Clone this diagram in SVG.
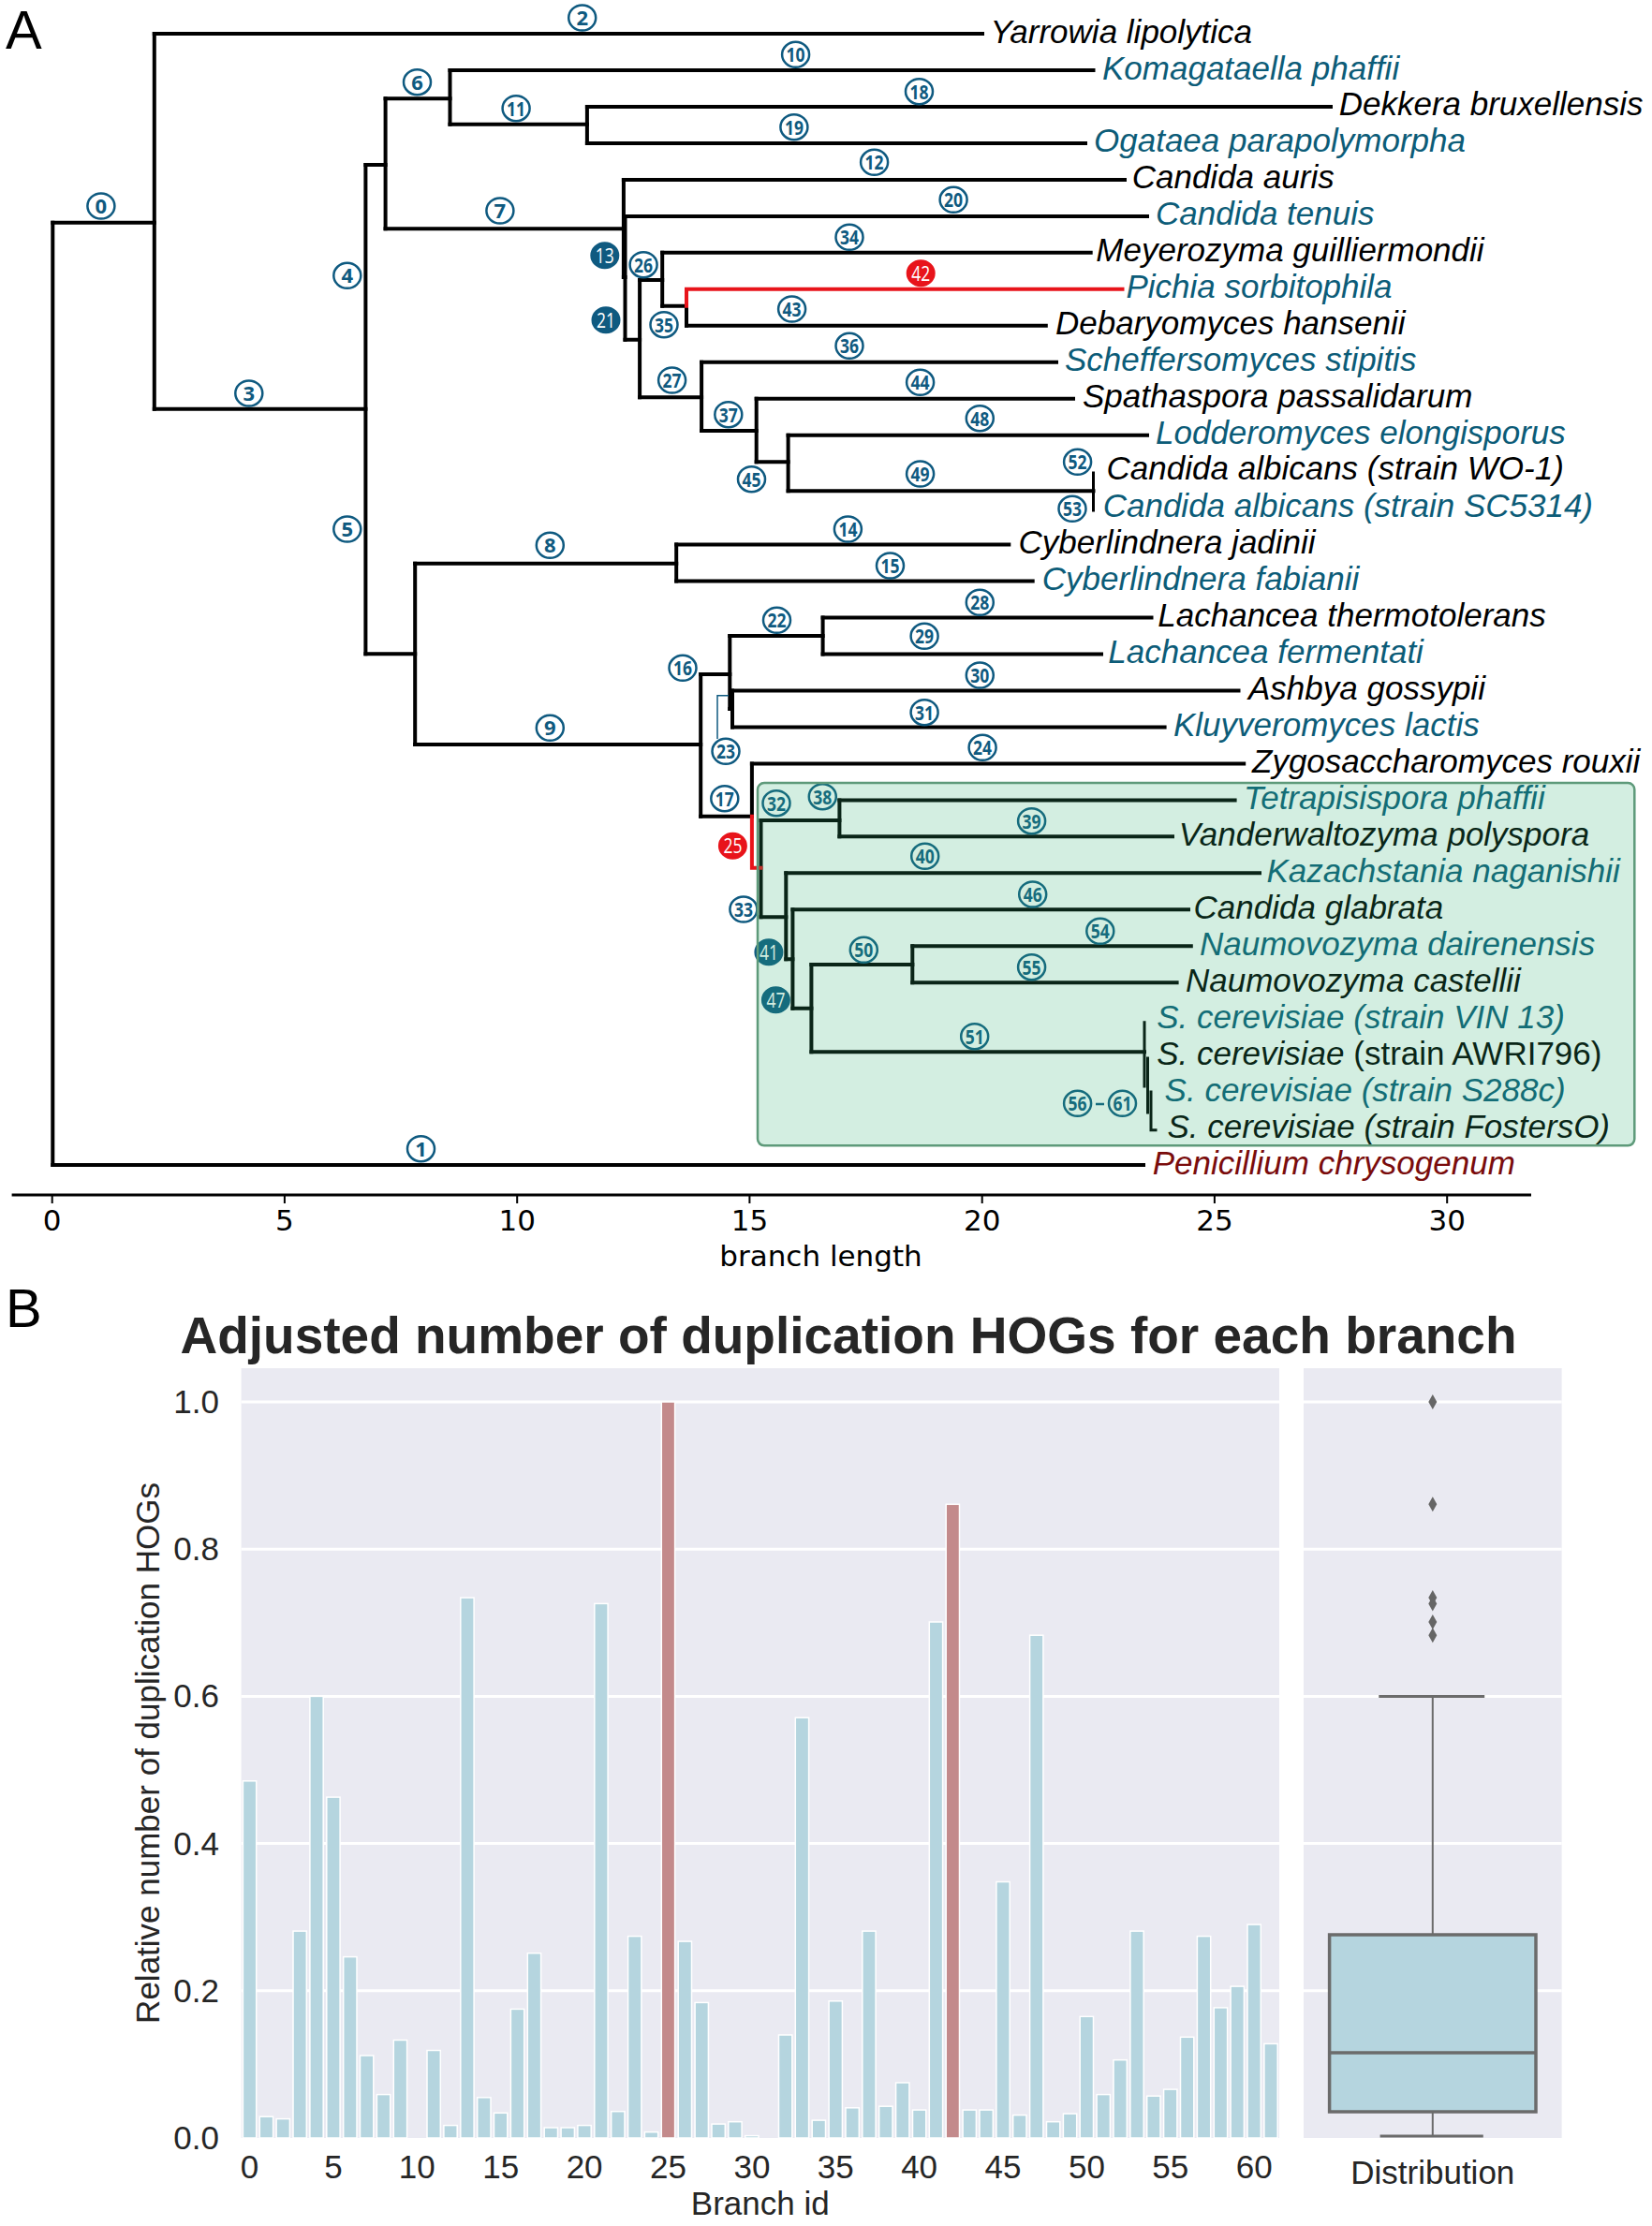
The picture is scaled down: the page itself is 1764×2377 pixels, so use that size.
<svg xmlns="http://www.w3.org/2000/svg" width="1764" height="2377" viewBox="0 0 1764 2377">
<style>
.br{fill:none;stroke:#000;stroke-width:4;stroke-linecap:square}
.red{fill:none;stroke:#e8141b;stroke-width:4;stroke-linecap:square}
.sp{font-family:"Liberation Sans",Arial,sans-serif;font-style:italic;font-size:35px}
.k{fill:#000}
.b{fill:#0c5c78}
.pen{fill:#7a0c0c}
.bub ellipse{fill:#fff;stroke:#0f5a80;stroke-width:2.5}
.bub text,.fb text,.rb text{font-family:"Open Sans","Liberation Sans",sans-serif;font-weight:700;font-size:22px;text-anchor:middle}
.bub text{fill:#0f5a80}
.fb ellipse{fill:#0f5a80;stroke:#0f5a80;stroke-width:2}
.fb text,.rb text{fill:#fff;font-weight:400}
.rb ellipse{fill:#e8141b;stroke:#e8141b;stroke-width:2}
.ax{font-family:"DejaVu Sans",sans-serif;font-size:31px;fill:#000}
.pl{font-family:"Liberation Sans",Arial,sans-serif;font-size:58px;fill:#000}
.bg{fill:#eaeaf2}
.grid{stroke:#fff;stroke-width:3}
.bar{fill:#b5d5df;stroke:#fff;stroke-width:1.5}
.barr{fill:#c38a8b;stroke:#fff;stroke-width:1.5}
.tl{font-family:"Liberation Sans",Arial,sans-serif;font-size:35px;fill:#262626}
.bx{stroke:#6b6b6b;stroke-width:3;fill:none}
</style>

<text class="pl" x="6" y="52">A</text>
<text class="pl" x="6" y="1417">B</text>

<g id="connectors">
<path class="br" d="M56.3,237.7V1244.1 M164.8,36V436.7 M390.4,176V698.3 M411.6,105.3V244.3 M480.5,75V132.7 M626.9,113.9V152.9 M665.9,191.9V296 M667.5,230.9V362.7 M683.1,299V424.3 M707.2,269.8V326.7 M733,326.7V347.8 M749.1,386.7V460 M807.7,425.7V493.3 M841.6,464.7V524.3 M443.2,601.7V795 M722.2,581.6V620.6 M748.2,720V871.7 M779.3,679V757 M878.6,659.5V698.5 M782,737.5V776.4 M802.9,815.4V871.7 M812.5,876V979.3 M896.4,854.4V893.3 M839.3,932.3V1024.3 M846.4,971.3V1076.7 M866.4,1030V1123.3 M974.3,1010.3V1049.2"/>
<path class="br" d="M56.3,237.7H164.8 M56.3,1244.1H1221 M164.8,36H1049 M164.8,436.7H390.4 M390.4,176H411.6 M390.4,698.3H443.2 M411.6,105.3H480.5 M411.6,244.3H665.9 M480.5,75H1167.5 M480.5,132.7H626.9 M626.9,113.9H1421 M626.9,152.9H1159 M665.9,191.9H1201 M665.9,296H667.5 M667.5,230.9H1225 M667.5,362.7H683.1 M683.1,299H707.2 M683.1,424.3H749.1 M707.2,269.8H1164.7 M707.2,326.7H733 M733,347.8H1116.8 M749.1,386.7H1128 M749.1,460H807.7 M807.7,425.7H1146 M807.7,493.3H841.6 M841.6,464.7H1225 M841.6,524.3H1167.5 M443.2,601.7H722.2 M443.2,795H748.2 M722.2,581.6H1077.3 M722.2,620.6H1102.7 M748.2,720H779.3 M748.2,871.7H802.9 M779.3,679H878.6 M779.3,757H782 M878.6,659.5H1229.5 M878.6,698.5H1176 M782,737.5H1322.5 M782,776.4H1243.6 M802.9,815.4H1328.2 M812.5,876H896.4 M812.5,979.3H839.3 M896.4,854.4H1318.6 M896.4,893.3H1252 M839.3,932.3H1345 M839.3,1024.3H846.4 M846.4,971.3H1269 M846.4,1076.7H866.4 M866.4,1030H974.3 M866.4,1123.3H1222 M974.3,1010.3H1271.8 M974.3,1049.2H1256.6"/>
<path class="br" style="stroke-width:3" d="M1167.5,505V545 M1222,1091.7V1160 M1225.5,1130V1188 M1229,1166V1206.7H1234"/>
<path class="red" d="M733,326.7V308.8H1198.5 M802.9,871.7V926.7H812.5"/>
<path fill="none" stroke="#0f5a80" stroke-width="1.5" d="M766,789V742.7H778"/>
</g>

<g id="leaves">
<text id="t-yarrowia" class="sp k" x="1057.6" y="45.5">Yarrowia lipolytica</text>
<text id="t-komagataella" class="sp b" x="1177" y="84.5">Komagataella phaffii</text>
<text id="t-dekkera" class="sp k" x="1429.7" y="123.4">Dekkera bruxellensis</text>
<text id="t-ogataea" class="sp b" x="1168" y="162.4">Ogataea parapolymorpha</text>
<text id="t-cauris" class="sp k" x="1208.7" y="201.4">Candida auris</text>
<text id="t-ctenuis" class="sp b" x="1234" y="240.4">Candida tenuis</text>
<text id="t-meyerozyma" class="sp k" x="1170.3" y="279.3">Meyerozyma guilliermondii</text>
<text id="t-pichia" class="sp b" x="1202.5" y="318.3">Pichia sorbitophila</text>
<text id="t-debaryomyces" class="sp k" x="1127" y="357.3">Debaryomyces hansenii</text>
<text id="t-scheffersomyces" class="sp b" x="1137" y="396.2">Scheffersomyces stipitis</text>
<text id="t-spathaspora" class="sp k" x="1156" y="435.2">Spathaspora passalidarum</text>
<text id="t-lodderomyces" class="sp b" x="1234" y="474.2">Lodderomyces elongisporus</text>
<text id="t-wo1" class="sp k" x="1181.6" y="512">Candida albicans (strain WO-1)</text>
<text id="t-sc5314" class="sp b" x="1177.7" y="551.5">Candida albicans (strain SC5314)</text>
<text id="t-jadinii" class="sp k" x="1087.5" y="591.1">Cyberlindnera jadinii</text>
<text id="t-fabianii" class="sp b" x="1112.8" y="630.1">Cyberlindnera fabianii</text>
<text id="t-lthermo" class="sp k" x="1236.3" y="669">Lachancea thermotolerans</text>
<text id="t-lferm" class="sp b" x="1183.3" y="708">Lachancea fermentati</text>
<text id="t-ashbya" class="sp k" x="1333" y="747">Ashbya gossypii</text>
<text id="t-kluyveromyces" class="sp b" x="1253" y="785.9">Kluyveromyces lactis</text>
<text id="t-zygo" class="sp k" x="1337" y="824.9">Zygosaccharomyces rouxii</text>
<text id="t-tetrap" class="sp b" x="1328" y="863.9">Tetrapisispora phaffii</text>
<text id="t-vanderw" class="sp k" x="1258.8" y="902.8">Vanderwaltozyma polyspora</text>
<text id="t-kazach" class="sp b" x="1352.4" y="941.8">Kazachstania naganishii</text>
<text id="t-cglab" class="sp k" x="1274.6" y="980.8">Candida glabrata</text>
<text id="t-ndair" class="sp b" x="1281" y="1019.8">Naumovozyma dairenensis</text>
<text id="t-ncast" class="sp k" x="1266" y="1058.7">Naumovozyma castellii</text>
<text id="t-vin13" class="sp b" x="1235.2" y="1097.7">S. cerevisiae (strain VIN 13)</text>
<text id="t-awri" class="sp k" x="1235.2" y="1136.7">S. cerevisiae<tspan font-style="normal"> (strain AWRI796)</tspan></text>
<text id="t-s288c" class="sp b" x="1243.6" y="1175.6">S. cerevisiae (strain S288c)</text>
<text id="t-fosters" class="sp k" x="1246.4" y="1214.6">S. cerevisiae (strain FostersO)</text>
<text id="t-penicillium" class="sp pen" x="1230.7" y="1253.6">Penicillium chrysogenum</text>
</g>

<g id="branch-labels">
<g class="bub" transform="translate(107.9,220)"><ellipse rx="14.5" ry="13.5"/><text y="8">0</text></g>
<g class="bub" transform="translate(449.5,1226.7)"><ellipse rx="14.5" ry="13.5"/><text y="8">1</text></g>
<g class="bub" transform="translate(621.7,19)"><ellipse rx="14.5" ry="13.5"/><text y="8">2</text></g>
<g class="bub" transform="translate(265.8,420)"><ellipse rx="14.5" ry="13.5"/><text y="8">3</text></g>
<g class="bub" transform="translate(370.8,294.3)"><ellipse rx="14.5" ry="13.5"/><text y="8">4</text></g>
<g class="bub" transform="translate(370.8,565)"><ellipse rx="14.5" ry="13.5"/><text y="8">5</text></g>
<g class="bub" transform="translate(445.5,87.7)"><ellipse rx="14.5" ry="13.5"/><text y="8">6</text></g>
<g class="bub" transform="translate(533.9,225)"><ellipse rx="14.5" ry="13.5"/><text y="8">7</text></g>
<g class="bub" transform="translate(587.3,582.3)"><ellipse rx="14.5" ry="13.5"/><text y="8">8</text></g>
<g class="bub" transform="translate(587.3,777.3)"><ellipse rx="14.5" ry="13.5"/><text y="8">9</text></g>
<g class="bub" transform="translate(849.6,58.3)"><ellipse rx="14.5" ry="13.5"/><text y="8" textLength="20" lengthAdjust="spacingAndGlyphs">10</text></g>
<g class="bub" transform="translate(551.1,115.7)"><ellipse rx="14.5" ry="13.5"/><text y="8" textLength="20" lengthAdjust="spacingAndGlyphs">11</text></g>
<g class="bub" transform="translate(933.6,173.3)"><ellipse rx="14.5" ry="13.5"/><text y="8" textLength="20" lengthAdjust="spacingAndGlyphs">12</text></g>
<g class="fb" transform="translate(645.8,272.7)"><ellipse rx="14.5" ry="13.5"/><text y="8" textLength="20" lengthAdjust="spacingAndGlyphs">13</text></g>
<g class="bub" transform="translate(905.4,565)"><ellipse rx="14.5" ry="13.5"/><text y="8" textLength="20" lengthAdjust="spacingAndGlyphs">14</text></g>
<g class="bub" transform="translate(950.5,604)"><ellipse rx="14.5" ry="13.5"/><text y="8" textLength="20" lengthAdjust="spacingAndGlyphs">15</text></g>
<g class="bub" transform="translate(729,713.3)"><ellipse rx="14.5" ry="13.5"/><text y="8" textLength="20" lengthAdjust="spacingAndGlyphs">16</text></g>
<g class="bub" transform="translate(773.8,852.7)"><ellipse rx="14.5" ry="13.5"/><text y="8" textLength="20" lengthAdjust="spacingAndGlyphs">17</text></g>
<g class="bub" transform="translate(981.5,97.7)"><ellipse rx="14.5" ry="13.5"/><text y="8" textLength="20" lengthAdjust="spacingAndGlyphs">18</text></g>
<g class="bub" transform="translate(847.9,135.7)"><ellipse rx="14.5" ry="13.5"/><text y="8" textLength="20" lengthAdjust="spacingAndGlyphs">19</text></g>
<g class="bub" transform="translate(1018.1,213.3)"><ellipse rx="14.5" ry="13.5"/><text y="8" textLength="20" lengthAdjust="spacingAndGlyphs">20</text></g>
<g class="fb" transform="translate(647,341.7)"><ellipse rx="14.5" ry="13.5"/><text y="8" textLength="20" lengthAdjust="spacingAndGlyphs">21</text></g>
<g class="bub" transform="translate(829.5,662.3)"><ellipse rx="14.5" ry="13.5"/><text y="8" textLength="20" lengthAdjust="spacingAndGlyphs">22</text></g>
<g class="bub" transform="translate(775,802.3)"><ellipse rx="14.5" ry="13.5"/><text y="8" textLength="20" lengthAdjust="spacingAndGlyphs">23</text></g>
<g class="bub" transform="translate(1049.1,798.3)"><ellipse rx="14.5" ry="13.5"/><text y="8" textLength="20" lengthAdjust="spacingAndGlyphs">24</text></g>
<g class="rb" transform="translate(782.4,903.3)"><ellipse rx="14.5" ry="13.5"/><text y="8" textLength="20" lengthAdjust="spacingAndGlyphs">25</text></g>
<g class="bub" transform="translate(687.1,282.7)"><ellipse rx="14.5" ry="13.5"/><text y="8" textLength="20" lengthAdjust="spacingAndGlyphs">26</text></g>
<g class="bub" transform="translate(717.6,406)"><ellipse rx="14.5" ry="13.5"/><text y="8" textLength="20" lengthAdjust="spacingAndGlyphs">27</text></g>
<g class="bub" transform="translate(1046.3,643.3)"><ellipse rx="14.5" ry="13.5"/><text y="8" textLength="20" lengthAdjust="spacingAndGlyphs">28</text></g>
<g class="bub" transform="translate(987.1,679.3)"><ellipse rx="14.5" ry="13.5"/><text y="8" textLength="20" lengthAdjust="spacingAndGlyphs">29</text></g>
<g class="bub" transform="translate(1046.3,721)"><ellipse rx="14.5" ry="13.5"/><text y="8" textLength="20" lengthAdjust="spacingAndGlyphs">30</text></g>
<g class="bub" transform="translate(987.1,760.7)"><ellipse rx="14.5" ry="13.5"/><text y="8" textLength="20" lengthAdjust="spacingAndGlyphs">31</text></g>
<g class="bub" transform="translate(829,857.7)"><ellipse rx="14.5" ry="13.5"/><text y="8" textLength="20" lengthAdjust="spacingAndGlyphs">32</text></g>
<g class="bub" transform="translate(793.9,971)"><ellipse rx="14.5" ry="13.5"/><text y="8" textLength="20" lengthAdjust="spacingAndGlyphs">33</text></g>
<g class="bub" transform="translate(907,253.3)"><ellipse rx="14.5" ry="13.5"/><text y="8" textLength="20" lengthAdjust="spacingAndGlyphs">34</text></g>
<g class="bub" transform="translate(709,346.7)"><ellipse rx="14.5" ry="13.5"/><text y="8" textLength="20" lengthAdjust="spacingAndGlyphs">35</text></g>
<g class="bub" transform="translate(907,369.3)"><ellipse rx="14.5" ry="13.5"/><text y="8" textLength="20" lengthAdjust="spacingAndGlyphs">36</text></g>
<g class="bub" transform="translate(777.8,442.7)"><ellipse rx="14.5" ry="13.5"/><text y="8" textLength="20" lengthAdjust="spacingAndGlyphs">37</text></g>
<g class="bub" transform="translate(878.3,850.7)"><ellipse rx="14.5" ry="13.5"/><text y="8" textLength="20" lengthAdjust="spacingAndGlyphs">38</text></g>
<g class="bub" transform="translate(1101.6,876.7)"><ellipse rx="14.5" ry="13.5"/><text y="8" textLength="20" lengthAdjust="spacingAndGlyphs">39</text></g>
<g class="bub" transform="translate(987.7,914.3)"><ellipse rx="14.5" ry="13.5"/><text y="8" textLength="20" lengthAdjust="spacingAndGlyphs">40</text></g>
<g class="fb" transform="translate(820.9,1016.7)"><ellipse rx="14.5" ry="13.5"/><text y="8" textLength="20" lengthAdjust="spacingAndGlyphs">41</text></g>
<g class="rb" transform="translate(983.2,291.7)"><ellipse rx="14.5" ry="13.5"/><text y="8" textLength="20" lengthAdjust="spacingAndGlyphs">42</text></g>
<g class="bub" transform="translate(845.6,330)"><ellipse rx="14.5" ry="13.5"/><text y="8" textLength="20" lengthAdjust="spacingAndGlyphs">43</text></g>
<g class="bub" transform="translate(982.6,408.3)"><ellipse rx="14.5" ry="13.5"/><text y="8" textLength="20" lengthAdjust="spacingAndGlyphs">44</text></g>
<g class="bub" transform="translate(802.5,511.7)"><ellipse rx="14.5" ry="13.5"/><text y="8" textLength="20" lengthAdjust="spacingAndGlyphs">45</text></g>
<g class="bub" transform="translate(1102.7,955)"><ellipse rx="14.5" ry="13.5"/><text y="8" textLength="20" lengthAdjust="spacingAndGlyphs">46</text></g>
<g class="fb" transform="translate(828.4,1067.7)"><ellipse rx="14.5" ry="13.5"/><text y="8" textLength="20" lengthAdjust="spacingAndGlyphs">47</text></g>
<g class="bub" transform="translate(1046.3,446.7)"><ellipse rx="14.5" ry="13.5"/><text y="8" textLength="20" lengthAdjust="spacingAndGlyphs">48</text></g>
<g class="bub" transform="translate(982.6,506)"><ellipse rx="14.5" ry="13.5"/><text y="8" textLength="20" lengthAdjust="spacingAndGlyphs">49</text></g>
<g class="bub" transform="translate(922.3,1014.3)"><ellipse rx="14.5" ry="13.5"/><text y="8" textLength="20" lengthAdjust="spacingAndGlyphs">50</text></g>
<g class="bub" transform="translate(1040.7,1106.7)"><ellipse rx="14.5" ry="13.5"/><text y="8" textLength="20" lengthAdjust="spacingAndGlyphs">51</text></g>
<g class="bub" transform="translate(1150.6,493.3)"><ellipse rx="14.5" ry="13.5"/><text y="8" textLength="20" lengthAdjust="spacingAndGlyphs">52</text></g>
<g class="bub" transform="translate(1145,543.3)"><ellipse rx="14.5" ry="13.5"/><text y="8" textLength="20" lengthAdjust="spacingAndGlyphs">53</text></g>
<g class="bub" transform="translate(1174.8,994.3)"><ellipse rx="14.5" ry="13.5"/><text y="8" textLength="20" lengthAdjust="spacingAndGlyphs">54</text></g>
<g class="bub" transform="translate(1101.6,1032.7)"><ellipse rx="14.5" ry="13.5"/><text y="8" textLength="20" lengthAdjust="spacingAndGlyphs">55</text></g>
<g class="bub" transform="translate(1150.6,1178.3)"><ellipse rx="14.5" ry="13.5"/><text y="8" textLength="20" lengthAdjust="spacingAndGlyphs">56</text></g>
<line x1="1170" y1="1179" x2="1179" y2="1179" stroke="#0f5a80" stroke-width="2.5"/>
<g class="bub" transform="translate(1198.5,1178.3)"><ellipse rx="14.5" ry="13.5"/><text y="8" textLength="20" lengthAdjust="spacingAndGlyphs">61</text></g>
</g>

<g id="highlight-box">
<rect x="809" y="836" width="936.3" height="387.3" rx="7" fill="#2eb070" fill-opacity="0.21" stroke="#5e9a7a" stroke-width="2.5"/>
</g>

<g id="tree-axis">
<line x1="12.6" y1="1276" x2="1635" y2="1276" stroke="#000" stroke-width="3"/>
<path stroke="#000" stroke-width="2" d="M55.7,1276V1285 M303.9,1276V1285 M552.2,1276V1285 M800.4,1276V1285 M1048.7,1276V1285 M1296.9,1276V1285 M1545.2,1276V1285"/>
<g class="ax" text-anchor="middle">
<text x="55.7" y="1314">0</text><text x="303.9" y="1314">5</text><text x="552.2" y="1314">10</text><text x="800.4" y="1314">15</text><text x="1048.7" y="1314">20</text><text x="1296.9" y="1314">25</text><text x="1545.2" y="1314">30</text>
<text x="876.5" y="1352">branch length</text>
</g>
</g>

<g id="chart-b">
<text x="906" y="1445" text-anchor="middle" style="font-family:'Liberation Sans',Arial,sans-serif;font-weight:bold;font-size:55px;fill:#262626">Adjusted number of duplication HOGs for each branch</text>
<rect class="bg" x="257.6" y="1461" width="1108.4" height="822"/>
<rect class="bg" x="1392" y="1461" width="275.6" height="822"/>
<path class="grid" d="M257.6,1497H1366 M257.6,1654.2H1366 M257.6,1811.4H1366 M257.6,1968.6H1366 M257.6,2125.8H1366 M1392,1497H1667.6 M1392,1654.2H1667.6 M1392,1811.4H1667.6 M1392,1968.6H1667.6 M1392,2125.8H1667.6"/>
<g id="bars">
<rect class="bar" x="259.4" y="1901.8" width="14.3" height="381.2"/>
<rect class="bar" x="277.3" y="2260.2" width="14.3" height="22.8"/>
<rect class="bar" x="295.1" y="2262.6" width="14.3" height="20.4"/>
<rect class="bar" x="313.0" y="2062.1" width="14.3" height="220.9"/>
<rect class="bar" x="330.9" y="1811.4" width="14.3" height="471.6"/>
<rect class="bar" x="348.8" y="1919.1" width="14.3" height="363.9"/>
<rect class="bar" x="366.7" y="2089.6" width="14.3" height="193.4"/>
<rect class="bar" x="384.5" y="2195.0" width="14.3" height="88.0"/>
<rect class="bar" x="402.4" y="2236.6" width="14.3" height="46.4"/>
<rect class="bar" x="420.3" y="2178.5" width="14.3" height="104.5"/>
<rect class="bar" x="456.0" y="2189.5" width="14.3" height="93.5"/>
<rect class="bar" x="473.9" y="2269.6" width="14.3" height="13.4"/>
<rect class="bar" x="491.8" y="1706.1" width="14.3" height="576.9"/>
<rect class="bar" x="509.7" y="2239.8" width="14.3" height="43.2"/>
<rect class="bar" x="527.5" y="2256.3" width="14.3" height="26.7"/>
<rect class="bar" x="545.4" y="2145.4" width="14.3" height="137.6"/>
<rect class="bar" x="563.3" y="2085.7" width="14.3" height="197.3"/>
<rect class="bar" x="581.2" y="2272.0" width="14.3" height="11.0"/>
<rect class="bar" x="599.1" y="2272.0" width="14.3" height="11.0"/>
<rect class="bar" x="616.9" y="2269.6" width="14.3" height="13.4"/>
<rect class="bar" x="634.8" y="1712.4" width="14.3" height="570.6"/>
<rect class="bar" x="652.7" y="2254.7" width="14.3" height="28.3"/>
<rect class="bar" x="670.6" y="2067.6" width="14.3" height="215.4"/>
<rect class="bar" x="688.4" y="2276.7" width="14.3" height="6.3"/>
<rect class="barr" x="706.3" y="1497" width="14.3" height="786"/>
<rect class="bar" x="724.2" y="2073.1" width="14.3" height="209.9"/>
<rect class="bar" x="742.1" y="2138.4" width="14.3" height="144.6"/>
<rect class="bar" x="760.0" y="2268.1" width="14.3" height="14.9"/>
<rect class="bar" x="777.8" y="2265.7" width="14.3" height="17.3"/>
<rect class="bar" x="795.7" y="2280.6" width="14.3" height="2.4"/>
<rect class="bar" x="831.5" y="2173.0" width="14.3" height="110.0"/>
<rect class="bar" x="849.3" y="1834.2" width="14.3" height="448.8"/>
<rect class="bar" x="867.2" y="2264.1" width="14.3" height="18.9"/>
<rect class="bar" x="885.1" y="2136.8" width="14.3" height="146.2"/>
<rect class="bar" x="903.0" y="2250.8" width="14.3" height="32.2"/>
<rect class="bar" x="920.8" y="2062.1" width="14.3" height="220.9"/>
<rect class="bar" x="938.7" y="2249.2" width="14.3" height="33.8"/>
<rect class="bar" x="956.6" y="2224.0" width="14.3" height="59.0"/>
<rect class="bar" x="974.5" y="2253.1" width="14.3" height="29.9"/>
<rect class="bar" x="992.3" y="1732.0" width="14.3" height="551.0"/>
<rect class="barr" x="1010.2" y="1606.3" width="14.3" height="676.7"/>
<rect class="bar" x="1028.1" y="2253.1" width="14.3" height="29.9"/>
<rect class="bar" x="1046.0" y="2253.1" width="14.3" height="29.9"/>
<rect class="bar" x="1063.9" y="2009.5" width="14.3" height="273.5"/>
<rect class="bar" x="1081.7" y="2258.6" width="14.3" height="24.4"/>
<rect class="bar" x="1099.6" y="1746.2" width="14.3" height="536.8"/>
<rect class="bar" x="1117.5" y="2265.7" width="14.3" height="17.3"/>
<rect class="bar" x="1135.4" y="2257.1" width="14.3" height="25.9"/>
<rect class="bar" x="1153.2" y="2153.3" width="14.3" height="129.7"/>
<rect class="bar" x="1171.1" y="2236.6" width="14.3" height="46.4"/>
<rect class="bar" x="1189.0" y="2199.7" width="14.3" height="83.3"/>
<rect class="bar" x="1206.9" y="2062.1" width="14.3" height="220.9"/>
<rect class="bar" x="1224.7" y="2238.2" width="14.3" height="44.8"/>
<rect class="bar" x="1242.6" y="2231.1" width="14.3" height="51.9"/>
<rect class="bar" x="1260.5" y="2175.3" width="14.3" height="107.7"/>
<rect class="bar" x="1278.4" y="2067.6" width="14.3" height="215.4"/>
<rect class="bar" x="1296.3" y="2143.9" width="14.3" height="139.1"/>
<rect class="bar" x="1314.1" y="2121.1" width="14.3" height="161.9"/>
<rect class="bar" x="1332.0" y="2055.1" width="14.3" height="227.9"/>
<rect class="bar" x="1349.9" y="2182.4" width="14.3" height="100.6"/>
</g>
<g id="boxplot">
<path class="bx" style="stroke-width:2" d="M1529.8,1811.4V2066 M1529.8,2255V2281"/>
<path class="bx" d="M1472.3,1811.4H1585.2 M1473.6,2281H1583.8"/>
<rect x="1419.6" y="2066" width="220.4" height="189" fill="#b5d5df" stroke="#6b6b6b" stroke-width="3.5"/>
<line x1="1419.6" y1="2192" x2="1640" y2="2192" stroke="#6b6b6b" stroke-width="3.5"/>
<g fill="#666">
<path d="M1529.8,1489l4.5,8l-4.5,8l-4.5,-8z"/>
<path d="M1529.8,1598.3l4.5,8l-4.5,8l-4.5,-8z"/>
<path d="M1529.8,1698l4.5,8l-4.5,8l-4.5,-8z"/>
<path d="M1529.8,1704.4l4.5,8l-4.5,8l-4.5,-8z"/>
<path d="M1529.8,1724l4.5,8l-4.5,8l-4.5,-8z"/>
<path d="M1529.8,1738.2l4.5,8l-4.5,8l-4.5,-8z"/>
</g>
</g>
<g class="tl" text-anchor="end">
<text x="234" y="1509">1.0</text><text x="234" y="1666.2">0.8</text><text x="234" y="1823.4">0.6</text><text x="234" y="1980.6">0.4</text><text x="234" y="2137.8">0.2</text><text x="234" y="2295">0.0</text>
</g>
<g class="tl" text-anchor="middle">
<text x="266.5" y="2326">0</text><text x="355.9" y="2326">5</text><text x="445.3" y="2326">10</text><text x="534.7" y="2326">15</text><text x="624.1" y="2326">20</text><text x="713.5" y="2326">25</text><text x="802.9" y="2326">30</text><text x="892.2" y="2326">35</text><text x="981.6" y="2326">40</text><text x="1071" y="2326">45</text><text x="1160.4" y="2326">50</text><text x="1249.8" y="2326">55</text><text x="1339.2" y="2326">60</text>
<text x="1529.8" y="2332">Distribution</text>
<text x="811.8" y="2365">Branch id</text>
<text transform="translate(170,1872) rotate(-90)">Relative number of duplication HOGs</text>
</g>
</g>
</svg>
